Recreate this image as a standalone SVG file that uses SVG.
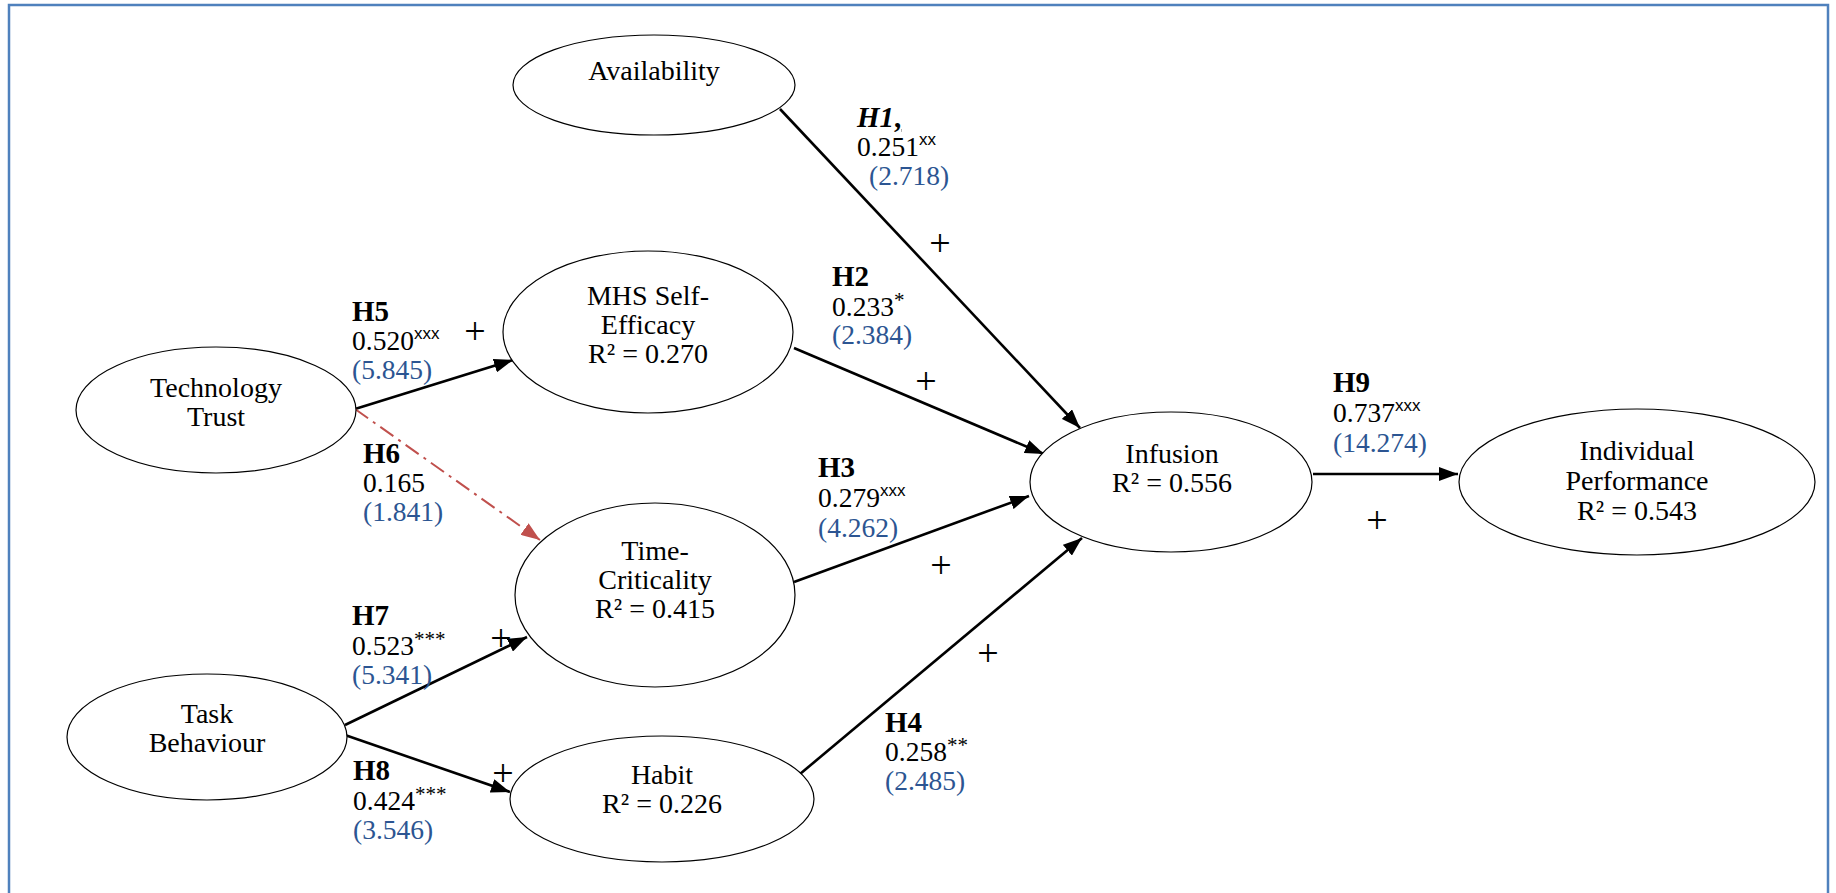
<svg xmlns="http://www.w3.org/2000/svg" width="1836" height="893" viewBox="0 0 1836 893">
  <style>
    .node ellipse { fill: #ffffff; stroke: #000000; stroke-width: 1.2; }
    .node text { font-family: "Liberation Serif", "Times New Roman", serif; font-size: 28px; fill: #000000; text-anchor: middle; }
    .lbl { font-family: "Liberation Serif", "Times New Roman", serif; font-size: 27.5px; fill: #000000; }
    .lbl .h { font-weight: bold; font-size: 29px; }
    .lbl .t { fill: #2c5592; }
    .lbl .sx { font-family: "Liberation Sans", Arial, sans-serif; font-size: 17px; }
    .lbl .sa { font-size: 21px; }
    .plus { font-family: "Liberation Serif", "Times New Roman", serif; font-size: 38px; fill: #000000; text-anchor: middle; }
    .edge { stroke: #000000; stroke-width: 2.6; fill: none; }
    .edge-dash { stroke: #c0504d; stroke-width: 2; fill: none; stroke-dasharray: 16 6 3 6; }
  </style>
  <defs>
    <marker id="arrow" markerUnits="userSpaceOnUse" markerWidth="20" markerHeight="14" refX="19" refY="7" orient="auto">
      <path d="M0,0 L19,7 L0,14 z" fill="#000000"/>
    </marker>
    <marker id="arrow-red" markerUnits="userSpaceOnUse" markerWidth="20" markerHeight="14" refX="19" refY="7" orient="auto">
      <path d="M0,0 L19,7 L0,14 z" fill="#c0504d"/>
    </marker>
  </defs>

  <!-- frame -->
  <rect x="9" y="5" width="1819" height="900" fill="#ffffff" stroke="#4f81bd" stroke-width="2.5"/>

  <!-- connectors -->
  <g id="connectors">
    <line class="edge" x1="780" y1="109" x2="1080" y2="428" marker-end="url(#arrow)"/>
    <line class="edge" x1="794" y1="348" x2="1044" y2="454" marker-end="url(#arrow)"/>
    <line class="edge" x1="794" y1="582" x2="1029" y2="496" marker-end="url(#arrow)"/>
    <line class="edge" x1="800" y1="774" x2="1082" y2="538" marker-end="url(#arrow)"/>
    <line class="edge" x1="355" y1="409" x2="513" y2="360" marker-end="url(#arrow)"/>
    <line class="edge-dash" x1="355" y1="409" x2="540" y2="540" marker-end="url(#arrow-red)"/>
    <line class="edge" x1="345" y1="725" x2="527" y2="637" marker-end="url(#arrow)"/>
    <line class="edge" x1="345" y1="735" x2="510" y2="792" marker-end="url(#arrow)"/>
    <line class="edge" x1="1313" y1="474" x2="1458" y2="474" marker-end="url(#arrow)"/>
  </g>

  <!-- nodes -->
  <g id="availability" class="node">
    <ellipse cx="654" cy="85" rx="141" ry="50"/>
    <text x="654" y="80">Availability</text>
  </g>
  <g id="mhs-self-efficacy" class="node">
    <ellipse cx="648" cy="332" rx="145" ry="81"/>
    <text x="648" y="305">MHS Self-</text>
    <text x="648" y="334">Efficacy</text>
    <text x="648" y="363">R² = 0.270</text>
  </g>
  <g id="technology-trust" class="node">
    <ellipse cx="216" cy="410" rx="140" ry="63"/>
    <text x="216" y="397">Technology</text>
    <text x="216" y="426">Trust</text>
  </g>
  <g id="time-criticality" class="node">
    <ellipse cx="655" cy="595" rx="140" ry="92"/>
    <text x="655" y="560">Time-</text>
    <text x="655" y="589">Criticality</text>
    <text x="655" y="618">R² = 0.415</text>
  </g>
  <g id="task-behaviour" class="node">
    <ellipse cx="207" cy="737" rx="140" ry="63"/>
    <text x="207" y="723">Task</text>
    <text x="207" y="752">Behaviour</text>
  </g>
  <g id="habit" class="node">
    <ellipse cx="662" cy="799" rx="152" ry="63"/>
    <text x="662" y="784">Habit</text>
    <text x="662" y="813">R² = 0.226</text>
  </g>
  <g id="infusion" class="node">
    <ellipse cx="1171" cy="482" rx="141" ry="70"/>
    <text x="1172" y="463">Infusion</text>
    <text x="1172" y="492">R² = 0.556</text>
  </g>
  <g id="individual-performance" class="node">
    <ellipse cx="1637" cy="482" rx="178" ry="73"/>
    <text x="1637" y="460">Individual</text>
    <text x="1637" y="490">Performance</text>
    <text x="1637" y="520">R² = 0.543</text>
  </g>

  <!-- path labels -->
  <g id="labels">
    <text class="lbl" x="857" y="127"><tspan class="h" font-style="italic">H1</tspan><tspan class="h" text-decoration="underline">,</tspan></text>
    <text class="lbl" x="857" y="156">0.251<tspan class="sx" dy="-11">xx</tspan></text>
    <text class="lbl" x="869" y="185"><tspan class="t">(2.718)</tspan></text>

    <text class="lbl" x="832" y="286"><tspan class="h">H2</tspan></text>
    <text class="lbl" x="832" y="316">0.233<tspan class="sa" dy="-9">*</tspan></text>
    <text class="lbl" x="832" y="344"><tspan class="t">(2.384)</tspan></text>

    <text class="lbl" x="818" y="477"><tspan class="h">H3</tspan></text>
    <text class="lbl" x="818" y="507">0.279<tspan class="sx" dy="-11">xxx</tspan></text>
    <text class="lbl" x="818" y="537"><tspan class="t">(4.262)</tspan></text>

    <text class="lbl" x="885" y="732"><tspan class="h">H4</tspan></text>
    <text class="lbl" x="885" y="761">0.258<tspan class="sa" dy="-9">**</tspan></text>
    <text class="lbl" x="885" y="790"><tspan class="t">(2.485)</tspan></text>

    <text class="lbl" x="352" y="321"><tspan class="h">H5</tspan></text>
    <text class="lbl" x="352" y="350">0.520<tspan class="sx" dy="-11">xxx</tspan></text>
    <text class="lbl" x="352" y="379"><tspan class="t">(5.845)</tspan></text>

    <text class="lbl" x="363" y="463"><tspan class="h">H6</tspan></text>
    <text class="lbl" x="363" y="492">0.165</text>
    <text class="lbl" x="363" y="521"><tspan class="t">(1.841)</tspan></text>

    <text class="lbl" x="352" y="625"><tspan class="h">H7</tspan></text>
    <text class="lbl" x="352" y="655">0.523<tspan class="sa" dy="-9">***</tspan></text>
    <text class="lbl" x="352" y="684"><tspan class="t">(5.341)</tspan></text>

    <text class="lbl" x="353" y="780"><tspan class="h">H8</tspan></text>
    <text class="lbl" x="353" y="810">0.424<tspan class="sa" dy="-9">***</tspan></text>
    <text class="lbl" x="353" y="839"><tspan class="t">(3.546)</tspan></text>

    <text class="lbl" x="1333" y="392"><tspan class="h">H9</tspan></text>
    <text class="lbl" x="1333" y="422">0.737<tspan class="sx" dy="-11">xxx</tspan></text>
    <text class="lbl" x="1333" y="452"><tspan class="t">(14.274)</tspan></text>
  </g>

  <!-- signs -->
  <g id="signs">
    <text class="plus" x="940" y="256">+</text>
    <text class="plus" x="926" y="394">+</text>
    <text class="plus" x="941" y="578">+</text>
    <text class="plus" x="988" y="666">+</text>
    <text class="plus" x="475" y="344">+</text>
    <text class="plus" x="501" y="651">+</text>
    <text class="plus" x="503" y="786">+</text>
    <text class="plus" x="1377" y="533">+</text>
  </g>
</svg>
